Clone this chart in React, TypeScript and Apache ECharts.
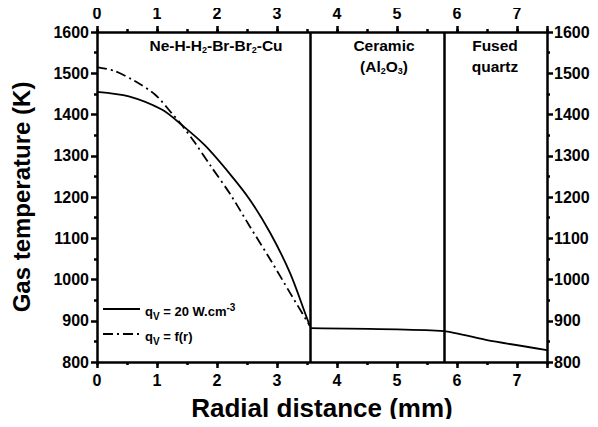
import React, { useEffect, useRef } from "react";
import * as echarts from "echarts";

// Radial distance (mm) / gas temperature (K)
const solidR = [0, 0.53, 1.08, 1.41, 1.8, 2.22, 2.55, 2.89, 3.22, 3.49, 3.55];
const solidT = [1455, 1444, 1412, 1375, 1325, 1255, 1193, 1112, 1015, 910, 887];
const dashR = [0, 0.3, 0.63, 0.97, 1.24, 1.41, 1.63, 1.91, 2.22, 2.55, 2.89, 3.22, 3.55];
const dashT = [1515, 1505, 1481, 1448, 1404, 1375, 1332, 1272, 1207, 1128, 1048, 967, 887];
const wallR = [3.55, 5.78, 6.5, 7.5];
const wallT = [882, 875, 853, 829];
const boundaries = [3.55, 5.78];
const xTicks = [0, 1, 2, 3, 4, 5, 6, 7];
const yTicks = [800, 900, 1000, 1100, 1200, 1300, 1400, 1500, 1600];

const FONT = "'Liberation Sans', Arial, sans-serif";

export default function App() {
  const ref = useRef<HTMLDivElement>(null);
  useEffect(() => {
    if (!ref.current) return;
    const chart = echarts.init(ref.current, undefined, { renderer: "svg" });
    const black = "#000";
    const AW = 2.5;
    const tickLabel = {
      color: black,
      fontFamily: FONT,
      fontWeight: "bold" as const,
      fontSize: 16,
    };
    const xMin = 0;
    const xMax = 7.5;
    const majorX = (pos: "top" | "bottom", withName: boolean) => ({
      type: "value",
      position: pos,
      min: xMin,
      max: xMax,
      interval: 1,
      name: withName ? "Radial distance (mm)" : "",
      nameLocation: "middle",
      nameGap: 33,
      nameTextStyle: { color: black, fontFamily: FONT, fontWeight: "bold", fontSize: 26 },
      axisLine: { show: true, onZero: false, lineStyle: { color: black, width: AW } },
      axisTick: { show: true, inside: false, length: 6, lineStyle: { color: black, width: AW } },
      axisLabel: {
        ...tickLabel,
        margin: pos === "top" ? 11 : 10,
        formatter: (v: number) => (xTicks.includes(v) ? String(v) : ""),
      },
      splitLine: { show: false },
    });
    const minorX = (pos: "top" | "bottom") => ({
      type: "value",
      position: pos,
      min: xMin,
      max: xMax,
      interval: 0.5,
      axisLine: { show: false, onZero: false },
      axisTick: { show: true, inside: false, length: 3, lineStyle: { color: black, width: AW } },
      axisLabel: { show: false },
      splitLine: { show: false },
    });
    const yAx = (pos: "left" | "right", withName: boolean) => ({
      type: "value",
      position: pos,
      min: 800,
      max: 1600,
      interval: 100,
      name: withName ? "Gas temperature (K)" : "",
      nameLocation: "middle",
      nameGap: 64,
      nameTextStyle: { color: black, fontFamily: FONT, fontWeight: "bold", fontSize: 24 },
      axisLine: { show: true, onZero: false, lineStyle: { color: black, width: AW } },
      axisTick: { show: true, inside: false, length: 6, lineStyle: { color: black, width: AW } },
      minorTick: { show: true, splitNumber: 2, length: 3, lineStyle: { color: black, width: AW } },
      minorSplitLine: { show: false },
      axisLabel: {
        ...tickLabel,
        margin: pos === "left" ? 8 : 7,
        formatter: (v: number) => (yTicks.includes(v) ? String(v) : ""),
      },
      splitLine: { show: false },
    });

    const zip = (a: number[], b: number[]) => a.map((v, i) => [v, b[i]]);

    const base = { fontFamily: FONT, fontWeight: "bold", color: black };
    const rich = {
      n: { ...base, fontSize: 15.5, lineHeight: 20 },
      s: { ...base, fontSize: 9, lineHeight: 20, padding: [10, 0, 0, 0] },
      l: { ...base, fontSize: 13, lineHeight: 18 },
      lsub: { ...base, fontSize: 10, lineHeight: 18, padding: [10, 0, 0, 0] },
      lsup: { ...base, fontSize: 10, lineHeight: 18, padding: [0, 0, 8, 0] },
    };

    chart.setOption({
      animation: false,
      backgroundColor: "#fff",
      grid: { left: 97, right: 51, top: 32, bottom: 65, containLabel: false },
      xAxis: [majorX("bottom", true), majorX("top", false), minorX("bottom"), minorX("top")],
      yAxis: [yAx("left", true), yAx("right", false)],
      series: [
        {
          type: "line",
          data: zip(solidR, solidT),
          smooth: 0.3,
          showSymbol: false,
          lineStyle: { color: black, width: 1.8 },
          markLine: {
            silent: true,
            symbol: "none",
            label: { show: false },
            lineStyle: { color: black, width: AW, type: "solid" },
            data: boundaries.map((b) => ({ xAxis: b })),
          },
        },
        {
          type: "line",
          data: zip(dashR, dashT),
          smooth: 0.3,
          showSymbol: false,
          lineStyle: { color: black, width: 1.8, type: [10, 4, 2, 4] },
        },
        {
          type: "line",
          data: zip(wallR, wallT),
          smooth: 0.2,
          showSymbol: false,
          lineStyle: { color: black, width: 1.8 },
        },
      ],
      graphic: [
        {
          type: "text",
          x: 216,
          y: 45,
          style: {
            text: "{n|Ne-H-H}{s|2}{n|-Br-Br}{s|2}{n|-Cu}",
            rich,
            align: "center",
            verticalAlign: "middle",
          },
        },
        {
          type: "text",
          x: 384,
          y: 45,
          style: { text: "{n|Ceramic}", rich, align: "center", verticalAlign: "middle" },
        },
        {
          type: "text",
          x: 384,
          y: 66,
          style: { text: "{n|(Al}{s|2}{n|O}{s|3}{n|)}", rich, align: "center", verticalAlign: "middle" },
        },
        {
          type: "text",
          x: 495,
          y: 45,
          style: { text: "{n|Fused}", rich, align: "center", verticalAlign: "middle" },
        },
        {
          type: "text",
          x: 495,
          y: 66,
          style: { text: "{n|quartz}", rich, align: "center", verticalAlign: "middle" },
        },
        {
          type: "line",
          shape: { x1: 103, y1: 309, x2: 140, y2: 309 },
          style: { stroke: black, lineWidth: 1.8 },
        },
        {
          type: "line",
          shape: { x1: 103, y1: 334, x2: 140, y2: 334 },
          style: { stroke: black, lineWidth: 1.8, lineDash: [10, 4, 2, 4] },
        },
        {
          type: "text",
          x: 145,
          y: 311,
          style: {
            text: "{l|q}{lsub|V}{l| = 20 W.cm}{lsup|-3}",
            rich,
            align: "left",
            verticalAlign: "middle",
          },
        },
        {
          type: "text",
          x: 145,
          y: 336,
          style: {
            text: "{l|q}{lsub|V}{l| = f(r)}",
            rich,
            align: "left",
            verticalAlign: "middle",
          },
        },
      ],
    });
    return () => chart.dispose();
  }, []);
  return <div ref={ref} style={{ width: 598, height: 427, margin: -8 }} />;
}
